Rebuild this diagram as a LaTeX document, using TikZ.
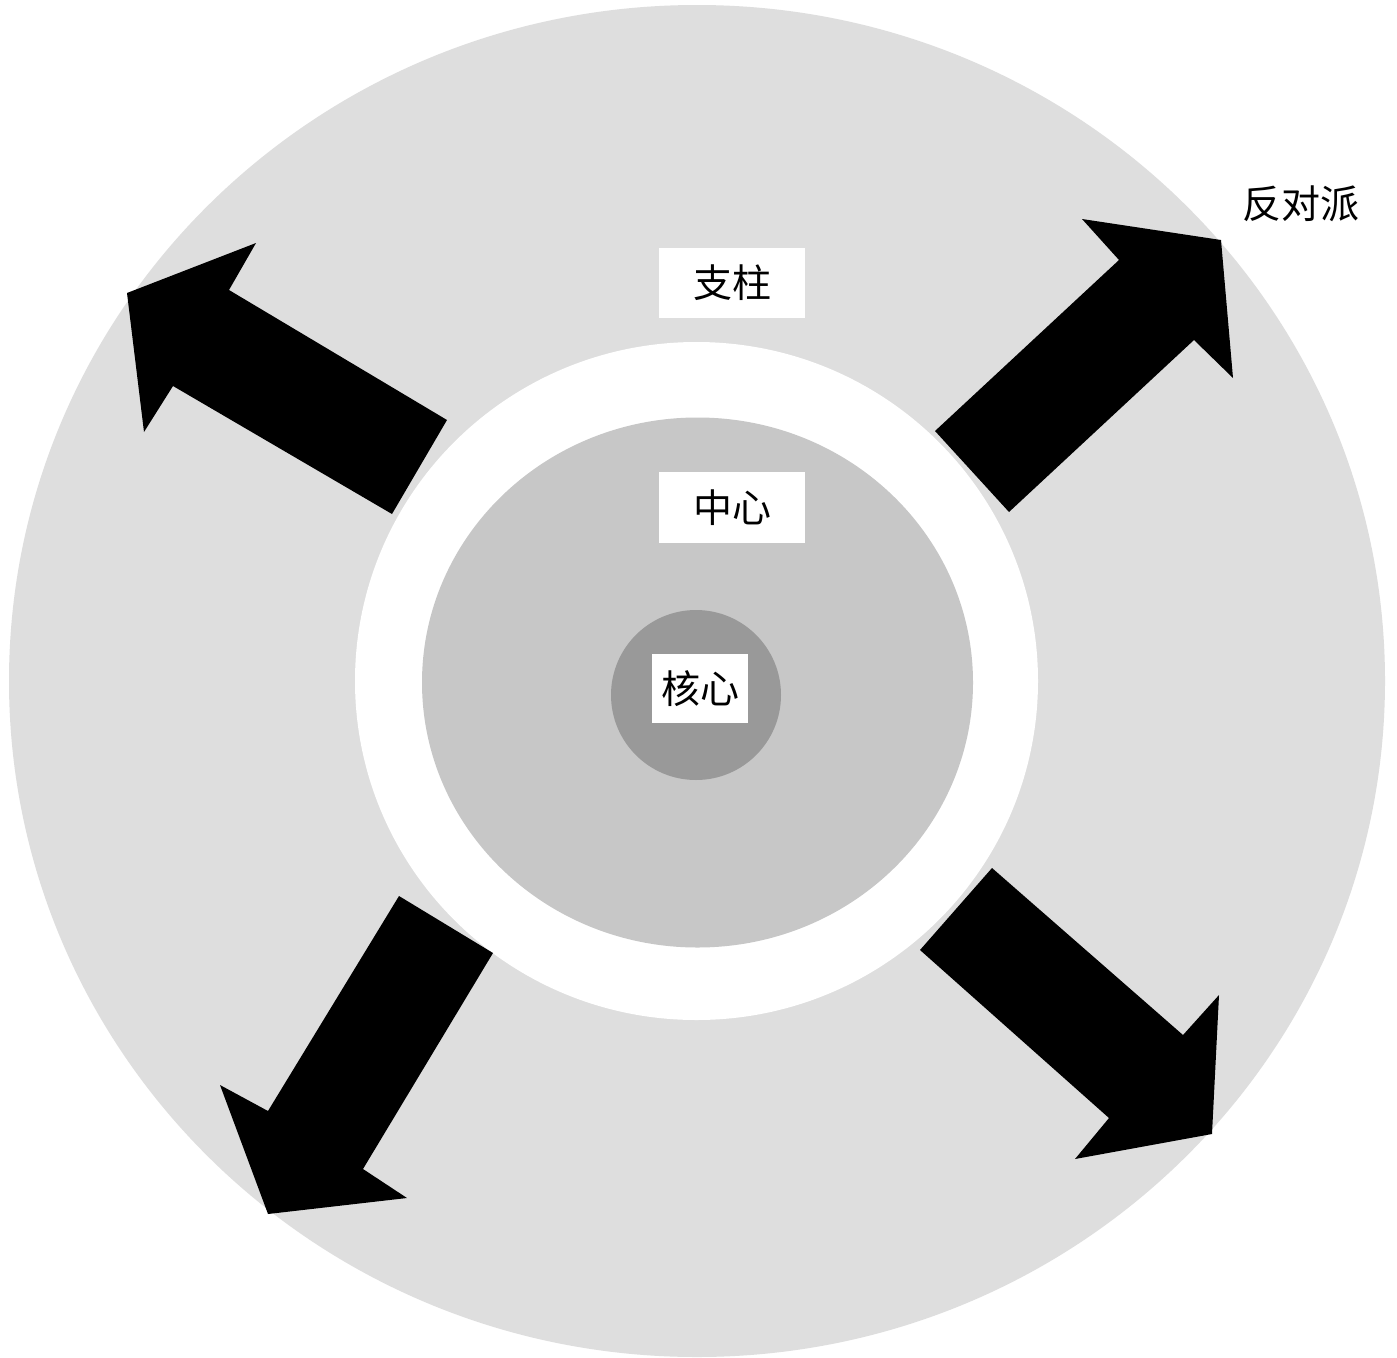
\documentclass[tikz,border=0pt]{standalone}
\usepackage{fontspec}
\newfontfamily\cjk{Noto Sans CJK SC}
\definecolor{outergray}{gray}{0.87}
\definecolor{midgray}{gray}{0.78}
\definecolor{coregray}{gray}{0.6}
\begin{document}
\begin{tikzpicture}[x=1pt,y=-1pt,
  lbl/.style={font=\cjk\fontsize{39}{44}\selectfont, inner sep=0pt, text=black},
  boxlbl/.style={lbl, fill=white},
  bigarrow/.style={fill=black}]
\useasboundingbox (0,0) rectangle (1397,1357);
\fill[white] (0,0) rectangle (1397,1357);
% rings
\fill[outergray] (697,681) ellipse [x radius=688, y radius=676];
\fill[white] (696.5,681) ellipse [x radius=341.5, y radius=339];
\fill[midgray] (697.5,682.5) ellipse [x radius=275.5, y radius=265];
\fill[coregray] (696,695) circle [radius=85];
% arrows
\fill[bigarrow] (447,420) -- (229,290) -- (256,243) -- (127,293) -- (144,432) -- (173,386) -- (392,514) -- cycle;
\fill[bigarrow] (935,431) -- (1119,260) -- (1082,219) -- (1221,240) -- (1233,378) -- (1194,340) -- (1009,512) -- cycle;
\fill[bigarrow] (399,896) -- (268,1111) -- (220,1085) -- (268,1214) -- (407,1198) -- (363,1169) -- (493,953) -- cycle;
\fill[bigarrow] (992,868) -- (1183,1035) -- (1219,995) -- (1212,1134) -- (1075,1159) -- (1109,1118) -- (920,950) -- cycle;
% labels
\node[boxlbl, minimum width=146, minimum height=70] (zhizhu) at (732,283) {支柱};
\node[boxlbl, minimum width=146, minimum height=71] (zhongxin) at (732,507.5) {中心};
\node[boxlbl, minimum width=96, minimum height=69] (hexin) at (700,688.5) {核心};
\node[lbl] (fanduipai) at (1301,204) {反对派};
\end{tikzpicture}
\end{document}
